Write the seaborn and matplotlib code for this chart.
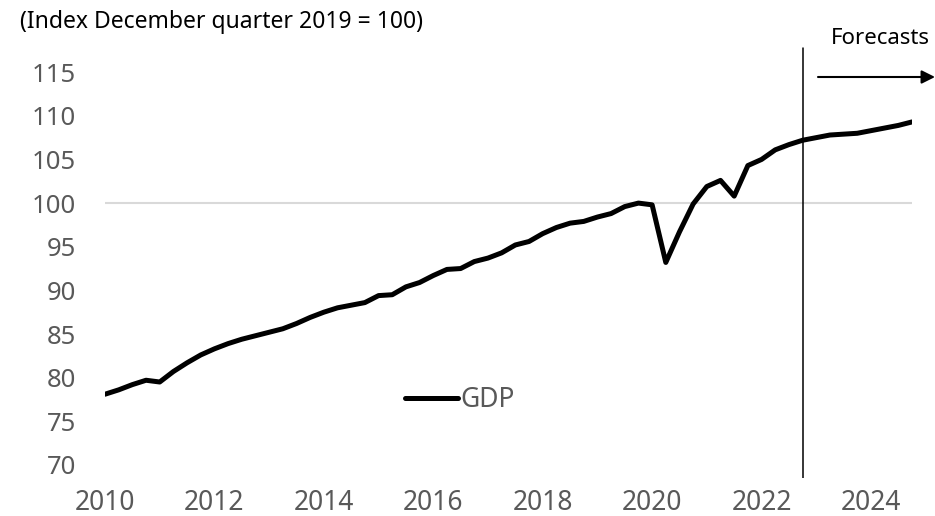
import matplotlib
matplotlib.use("Agg")
import matplotlib.pyplot as plt
import seaborn as sns
import numpy as np
import pandas as pd

# ---- data ----
start_quarter = "2010Q1"
gdp = [78.1, 78.6, 79.2, 79.7, 79.5, 80.7, 81.7, 82.6, 83.3, 83.9,
       84.4, 84.8, 85.2, 85.6, 86.2, 86.9, 87.5, 88.0, 88.3, 88.6,
       89.4, 89.5, 90.4, 90.9, 91.7, 92.4, 92.5, 93.3, 93.7, 94.3,
       95.2, 95.6, 96.5, 97.2, 97.7, 97.9, 98.4, 98.8, 99.6, 100.0,
       99.8, 93.2, 96.7, 99.9, 101.9, 102.6, 100.8, 104.3, 105.0, 106.1,
       106.7, 107.2, 107.5, 107.8, 107.9, 108.0, 108.3, 108.6, 108.9, 109.3]
tick_years = [2010, 2012, 2014, 2016, 2018, 2020, 2022, 2024]
y_ticks = [70, 75, 80, 85, 90, 95, 100, 105, 110, 115]
forecast_start = "2022Q4"
title_text = "(Index December quarter 2019 = 100)"
forecast_label = "Forecasts"
series_name = "GDP"

quarters = pd.period_range(start_quarter, periods=len(gdp), freq="Q")
df = pd.DataFrame({"q": np.arange(len(gdp)), "GDP": gdp})
tick_pos = [int((pd.Period(f"{y}Q1", freq="Q") - quarters[0]).n) for y in tick_years]
fc_pos = int((pd.Period(forecast_start, freq="Q") - quarters[0]).n)

sns.set_theme(style="white")
plt.rcParams["font.family"] = ["Noto Sans", "DejaVu Sans"]

W, H = 935, 516
fig = plt.figure(figsize=(W / 100, H / 100), dpi=100)
ax = fig.add_axes([105 / W, (H - 478) / H, (912 - 105) / W, (478 - 46) / H])

ax.hlines(100, df["q"].iloc[0], df["q"].iloc[-1], color="#d9d9d9", lw=1.5, zorder=1)
sns.lineplot(data=df, x="q", y="GDP", ax=ax, color="black", lw=3.6,
             label=series_name, zorder=3)
ax.axvline(fc_pos, ymin=0, ymax=0.995, color="black", lw=1.1, zorder=2)

ax.set_xlim(df["q"].iloc[0], df["q"].iloc[-1])
ax.set_ylim(68.5, 118)
ax.set_xticks(tick_pos)
ax.set_xticklabels([str(y) for y in tick_years])
ax.set_yticks(y_ticks)
ax.set_yticklabels([str(v) for v in y_ticks])
ax.tick_params(axis="y", length=0, pad=21, labelsize=18.5, labelcolor="#595959")
ax.tick_params(axis="x", length=0, pad=8, labelsize=19, labelcolor="#595959")
ax.set_xlabel("")
ax.set_ylabel("")
for s in ax.spines.values():
    s.set_visible(False)
ax.grid(False)

leg = ax.legend(loc="center left", bbox_to_anchor=((405 - 105) / (912 - 105), (478 - 400) / (478 - 46)),
                frameon=False, handlelength=2.0, handletextpad=0.1, borderpad=0,
                borderaxespad=0, fontsize=19)
for t in leg.get_texts():
    t.set_color("#595959")

fig.text(20 / W, 1 - 22 / H, title_text, ha="left", va="center", fontsize=16.5, color="black")
fig.text(880 / W, 1 - 38 / H, forecast_label, ha="center", va="center", fontsize=16, color="black")
fig.add_artist(matplotlib.patches.FancyArrowPatch((818 / W, 1 - 77 / H), (935 / W, 1 - 77 / H),
               transform=fig.transFigure, arrowstyle="-|>", mutation_scale=20,
               lw=1.5, color="black", shrinkA=0, shrinkB=0))

fig.savefig("out.png", dpi=100)
